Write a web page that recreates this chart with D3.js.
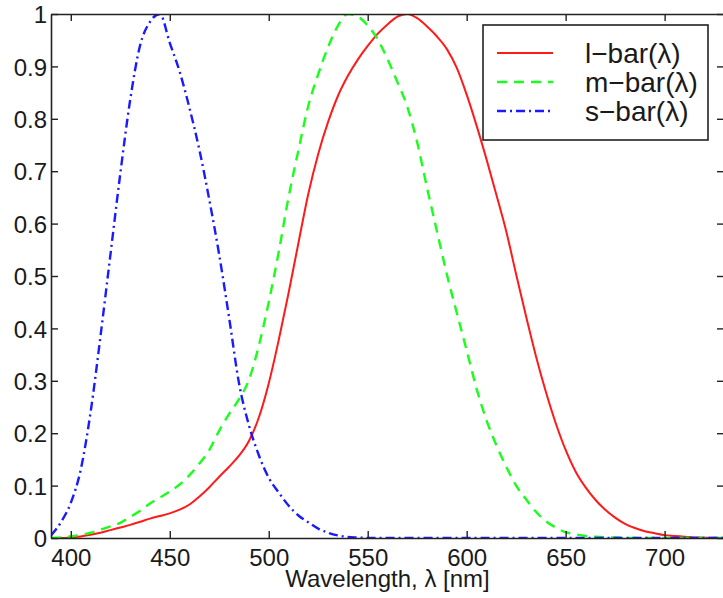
<!DOCTYPE html>
<html>
<head>
<meta charset="utf-8">
<script src="https://cdn.jsdelivr.net/npm/d3@7"></script>
<style>
  body { margin: 0; background: #fff; }
  text { font-family: "Liberation Sans", Arial, sans-serif; fill: #1a1a1a; }
</style>
</head>
<body>
<script>
// wavelength grid (nm)
var wavelengths = [390, 395, 400, 405, 410, 415, 420, 425, 430, 435, 440, 445, 450, 455, 460, 465, 470, 475, 480, 485,
  490, 495, 500, 505, 510, 515, 520, 525, 530, 535, 540, 545, 550, 555, 560, 565, 570, 575, 580, 585,
  590, 595, 600, 605, 610, 615, 620, 625, 630, 635, 640, 645, 650, 655, 660, 665, 670, 675, 680, 685,
  690, 695, 700, 705, 710, 715, 720, 725, 730];

var lBar = [0, 0, 0.001, 0.003, 0.006, 0.010, 0.015, 0.020, 0.025, 0.031, 0.037, 0.042, 0.047, 0.054, 0.064, 0.079, 0.097, 0.117, 0.136, 0.157,
  0.185, 0.230, 0.295, 0.377, 0.467, 0.563, 0.657, 0.733, 0.794, 0.844, 0.882, 0.913, 0.939, 0.962, 0.980, 0.995, 1.0, 0.992, 0.976, 0.957,
  0.933, 0.897, 0.846, 0.787, 0.723, 0.655, 0.585, 0.503, 0.423, 0.347, 0.279, 0.219, 0.168, 0.127, 0.097, 0.073, 0.054, 0.039, 0.027, 0.019,
  0.013, 0.009, 0.0055, 0.004, 0.0025, 0.001, 0.0007, 0.0004, 0.0002];

var mBar = [0, 0.001, 0.003, 0.006, 0.010, 0.016, 0.022, 0.029, 0.040, 0.052, 0.066, 0.077, 0.089, 0.102, 0.120, 0.142, 0.168, 0.205, 0.237, 0.265,
  0.302, 0.367, 0.450, 0.545, 0.650, 0.740, 0.825, 0.885, 0.937, 0.978, 1.0, 0.995, 0.978, 0.952, 0.914, 0.870, 0.823, 0.755, 0.668, 0.585,
  0.503, 0.430, 0.358, 0.285, 0.225, 0.177, 0.136, 0.100, 0.074, 0.050, 0.032, 0.020, 0.011, 0.007, 0.004, 0.0025, 0.0015, 0.001, 0.0005, 0,
  0, 0, 0, 0, 0, 0, 0, 0, 0];

var sBar = [0.005, 0.030, 0.067, 0.130, 0.240, 0.385, 0.540, 0.695, 0.836, 0.940, 0.985, 1.0, 0.945, 0.890, 0.820, 0.740, 0.645, 0.540, 0.420, 0.295,
  0.215, 0.158, 0.115, 0.087, 0.062, 0.043, 0.030, 0.018, 0.010, 0.005, 0.002, 0.001, 0, 0, 0, 0, 0, 0, 0, 0,
  0, 0, 0, 0, 0, 0, 0, 0, 0, 0, 0, 0, 0, 0, 0, 0, 0, 0, 0, 0,
  0, 0, 0, 0, 0, 0, 0, 0, 0];

var xTicks = [400, 450, 500, 550, 600, 650, 700];
var yTicks = [0, 0.1, 0.2, 0.3, 0.4, 0.5, 0.6, 0.7, 0.8, 0.9, 1];
var seriesNames = ["l\u2212bar(\u03bb)", "m\u2212bar(\u03bb)", "s\u2212bar(\u03bb)"];
var seriesColors = ["#ff1a1a", "#1aff1a", "#1a1aff"];
var seriesDash = [null, "10,7", "9,4,2,4"];

var svgWidth = 723, svgHeight = 598;
var margin = { top: 14, right: -1, bottom: 60, left: 51 };
var width = svgWidth - margin.left - margin.right;
var height = svgHeight - margin.top - margin.bottom;

var x = d3.scaleLinear().domain([390, 730]).range([0, width]);
var y = d3.scaleLinear().domain([0, 1]).range([height, 0]);

var svg = d3.select("body").append("svg")
    .attr("width", svgWidth)
    .attr("height", svgHeight)
  .append("g")
    .attr("transform", "translate(" + margin.left + "," + margin.top + ")");

svg.append("clipPath").attr("id", "clip")
  .append("rect").attr("width", width).attr("height", height);

// the curves
var allSeries = [lBar, mBar, sBar];
var line = d3.line()
    .x(function(d, i) { return x(wavelengths[i]); })
    .y(function(d) { return y(d); })
    .curve(d3.curveMonotoneX);

allSeries.forEach(function(vals, k) {
  svg.append("path")
      .datum(vals)
      .attr("clip-path", "url(#clip)")
      .attr("fill", "none")
      .attr("stroke", seriesColors[k])
      .attr("stroke-width", k == 0 ? 2 : 2.4)
      .attr("stroke-dasharray", seriesDash[k])
      .attr("d", line);
});

// axes, matlab style: ticks inside on all sides
var tickLen = 7;
var axisColor = "#222";

var axBottom = svg.append("g")
    .attr("transform", "translate(0," + height + ")")
    .call(d3.axisBottom(x).tickValues(xTicks).tickSizeInner(-tickLen).tickSizeOuter(0).tickPadding(11));
var axLeft = svg.append("g")
    .call(d3.axisLeft(y).tickValues(yTicks).tickSizeInner(-tickLen).tickSizeOuter(0).tickPadding(4)
      .tickFormat(function(d) { return String(+d.toFixed(1)); }));
var axTop = svg.append("g")
    .call(d3.axisTop(x).tickValues(xTicks).tickSizeInner(-tickLen).tickSizeOuter(0).tickFormat(""));
var axRight = svg.append("g")
    .attr("transform", "translate(" + width + ",0)")
    .call(d3.axisRight(y).tickValues(yTicks).tickSizeInner(-tickLen).tickSizeOuter(0).tickFormat(""));

[axBottom, axLeft, axTop, axRight].forEach(function(g) {
  g.selectAll("path").attr("stroke", axisColor).attr("stroke-width", 1.6);
  g.selectAll("line").attr("stroke", axisColor).attr("stroke-width", 1.4);
  g.selectAll("text").attr("font-size", 24).attr("fill", "#1a1a1a")
    .style("font-family", "'Liberation Sans', Arial, sans-serif");
});
axLeft.selectAll("text").attr("dy", "0.36em");

// x label
svg.append("text")
    .attr("x", x(560))
    .attr("y", height + 49)
    .attr("text-anchor", "middle")
    .attr("font-size", 24)
    .text("Wavelength, \u03bb [nm]");

// legend
var legend = svg.append("g").attr("transform", "translate(" + (483 - margin.left) + "," + (25 - margin.top) + ")");
legend.append("rect")
    .attr("width", 225).attr("height", 115)
    .attr("fill", "#fff").attr("stroke", axisColor).attr("stroke-width", 1.6);
seriesNames.forEach(function(name, k) {
  var ly = 28 + k * 29;
  legend.append("line")
      .attr("x1", 14).attr("x2", 70).attr("y1", ly).attr("y2", ly)
      .attr("stroke", seriesColors[k])
      .attr("stroke-width", k == 0 ? 2 : 2.4)
      .attr("stroke-dasharray", seriesDash[k]);
  legend.append("text")
      .attr("x", 102).attr("y", ly)
      .attr("dy", "0.36em")
      .attr("font-size", 28)
      .text(name);
});
</script>
</body>
</html>
